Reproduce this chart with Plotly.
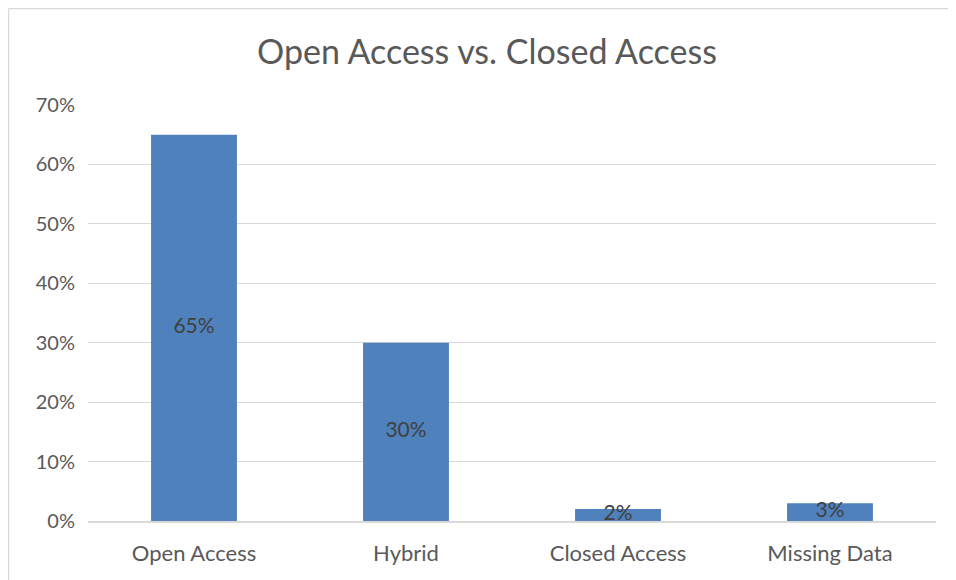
import plotly.graph_objects as go

categories = ["Open Access", "Hybrid", "Closed Access", "Missing Data"]
values = [0.65, 0.30, 0.02, 0.03]
labels = ["65%", "30%", "2%", "3%"]
tick_vals = [0, 0.1, 0.2, 0.3, 0.4, 0.5, 0.6, 0.7]
tick_text = ["0%", "10%", "20%", "30%", "40%", "50%", "60%", "70%"]

FONT = "Lato"
W, H = 948, 572
L, T, PW, PH = 80, 97, 848, 416

fig = go.Figure()
fig.add_trace(go.Bar(
    x=categories, y=values,
    marker=dict(color="#4F81BD", line=dict(width=0)),
    hoverinfo="skip",
))
fig.add_trace(go.Scatter(
    x=categories, y=[v / 2 for v in values],
    mode="text", text=labels,
    textfont=dict(family=FONT, size=21, color="#404040"),
    hoverinfo="skip",
))

border = dict(color="#D9D9D9", width=1.5)
x_left = (0.5 - L) / PW
y_top = 1 + (T - 0.5) / PH

fig.update_layout(
    width=W, height=H,
    margin=dict(l=L, r=W - L - PW, t=T, b=H - T - PH, autoexpand=False),
    paper_bgcolor="white", plot_bgcolor="white",
    showlegend=False,
    bargap=0.595,
    title=dict(text="Open Access vs. Closed Access", x=479 / W, xanchor="center",
               y=1 - 44 / H, yanchor="middle",
               font=dict(family=FONT, size=34, color="#595959")),
    xaxis=dict(showgrid=False, showline=True, linecolor="#D9D9D9", linewidth=1.5,
               ticks="", tickfont=dict(family=FONT, size=22, color="#595959"),
               ticklabelstandoff=12, automargin=False),
    yaxis=dict(range=[0, 0.7], tickvals=tick_vals, ticktext=tick_text,
               showgrid=True, gridcolor="#D9D9D9", gridwidth=1.2,
               zeroline=False, showline=False, ticks="",
               tickfont=dict(family=FONT, size=20, color="#595959"),
               ticklabelstandoff=12, automargin=False),
    shapes=[
        dict(type="line", xref="paper", yref="paper", x0=x_left, x1=1.5,
             y0=y_top, y1=y_top, line=border, layer="below"),
        dict(type="line", xref="paper", yref="paper", x0=x_left, x1=x_left,
             y0=-0.5, y1=y_top, line=border, layer="below"),
    ],
)

fig.write_html("out.html")
